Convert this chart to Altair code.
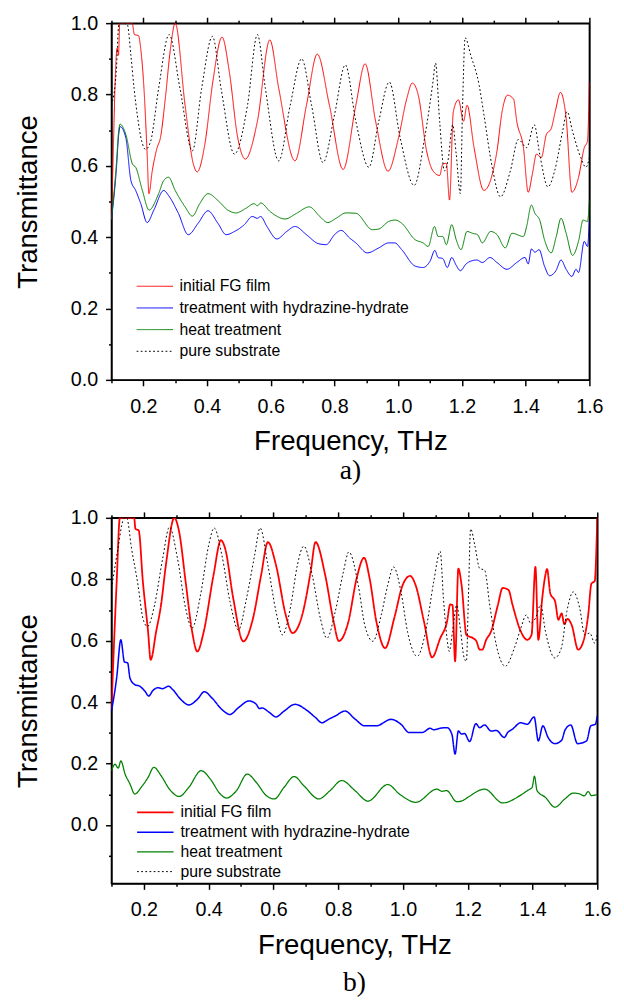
import altair as alt
import pandas as pd

SERIES = ["initial FG film", "treatment with hydrazine-hydrate", "heat treatment", "pure substrate"]
COLORS = ["#ff0000", "#0000ff", "#008000", "#000000"]
DASHES = [[1, 0], [1, 0], [1, 0], [1.8, 2.4]]

X_TICKS = [0.1, 0.2, 0.3, 0.4, 0.5, 0.6, 0.7, 0.8, 0.9, 1.0, 1.1, 1.2, 1.3, 1.4, 1.5, 1.6]
Y_TICKS_A = [0.0, 0.1, 0.2, 0.3, 0.4, 0.5, 0.6, 0.7, 0.8, 0.9, 1.0]
Y_TICKS_B = [-0.1, 0.0, 0.1, 0.2, 0.3, 0.4, 0.5, 0.6, 0.7, 0.8, 0.9, 1.0]

# ---- panel a) ----
A_RED = [(0.100, 0.45), (0.106, 0.65), (0.112, 0.85), (0.118, 0.93), (0.122, 0.91), (0.126, 1.0),
         (0.165, 1.0), (0.172, 0.968), (0.185, 0.965), (0.192, 0.927), (0.202, 0.817), (0.212, 0.633),
         (0.2175, 0.522), (0.228, 0.586), (0.243, 0.65), (0.254, 0.68), (0.269, 0.789), (0.285, 0.927),
         (0.300, 1.0), (0.331, 0.77), (0.357, 0.605), (0.369, 0.583), (0.393, 0.66), (0.418, 0.835),
         (0.447, 0.961), (0.470, 0.863), (0.496, 0.68), (0.520, 0.619), (0.558, 0.725), (0.597, 0.953),
         (0.625, 0.817), (0.676, 0.614), (0.712, 0.77), (0.746, 0.913), (0.784, 0.77), (0.827, 0.59),
         (0.867, 0.77), (0.896, 0.886), (0.929, 0.725), (0.968, 0.585), (1.001, 0.679), (1.027, 0.789),
         (1.044, 0.832), (1.063, 0.798), (1.089, 0.642), (1.109, 0.586), (1.130, 0.573), (1.140, 0.605),
         (1.151, 0.607), (1.161, 0.504), (1.173, 0.752), (1.189, 0.785), (1.205, 0.725), (1.216, 0.77),
         (1.238, 0.651), (1.269, 0.531), (1.310, 0.642), (1.326, 0.752), (1.343, 0.798), (1.362, 0.787),
         (1.372, 0.725), (1.393, 0.651), (1.408, 0.526), (1.421, 0.577), (1.434, 0.633), (1.449, 0.623),
         (1.465, 0.688), (1.480, 0.704), (1.494, 0.757), (1.509, 0.806), (1.527, 0.734), (1.545, 0.526),
         (1.566, 0.568), (1.584, 0.651), (1.594, 0.669), (1.600, 0.835)]

A_BLUE = [(0.100, 0.45), (0.115, 0.586), (0.123, 0.69), (0.127, 0.71), (0.145, 0.679), (0.161, 0.559),
          (0.176, 0.531), (0.192, 0.494), (0.212, 0.441), (0.233, 0.476), (0.264, 0.531), (0.279, 0.517),
          (0.310, 0.467), (0.341, 0.407), (0.372, 0.439), (0.403, 0.474), (0.434, 0.439), (0.460, 0.407),
          (0.486, 0.416), (0.517, 0.435), (0.542, 0.458), (0.558, 0.453), (0.568, 0.458), (0.588, 0.43),
          (0.619, 0.395), (0.650, 0.416), (0.676, 0.43), (0.712, 0.407), (0.749, 0.382), (0.774, 0.379),
          (0.800, 0.407), (0.821, 0.419), (0.847, 0.398), (0.867, 0.384), (0.903, 0.356), (0.939, 0.37),
          (0.970, 0.384), (0.989, 0.384), (1.011, 0.365), (1.053, 0.319), (1.078, 0.315), (1.100, 0.333),
          (1.115, 0.363), (1.125, 0.343), (1.140, 0.34), (1.154, 0.315), (1.168, 0.343), (1.182, 0.321),
          (1.195, 0.306), (1.213, 0.325), (1.228, 0.333), (1.247, 0.336), (1.264, 0.329), (1.288, 0.343),
          (1.310, 0.329), (1.341, 0.31), (1.372, 0.329), (1.398, 0.343), (1.408, 0.325), (1.418, 0.367),
          (1.429, 0.358), (1.442, 0.365), (1.459, 0.319), (1.475, 0.292), (1.495, 0.306), (1.511, 0.336),
          (1.527, 0.31), (1.545, 0.29), (1.558, 0.31), (1.566, 0.301), (1.584, 0.388), (1.594, 0.374),
          (1.600, 0.448)]

A_GREEN = [(0.100, 0.45), (0.115, 0.6), (0.123, 0.70), (0.127, 0.717), (0.145, 0.688), (0.166, 0.605),
           (0.176, 0.596), (0.197, 0.531), (0.218, 0.476), (0.248, 0.522), (0.264, 0.559), (0.279, 0.568),
           (0.300, 0.531), (0.331, 0.485), (0.354, 0.459), (0.377, 0.494), (0.403, 0.522), (0.434, 0.503),
           (0.465, 0.476), (0.491, 0.468), (0.522, 0.481), (0.548, 0.494), (0.558, 0.488), (0.568, 0.496),
           (0.599, 0.471), (0.645, 0.451), (0.681, 0.467), (0.721, 0.485), (0.754, 0.458), (0.779, 0.441),
           (0.805, 0.453), (0.836, 0.468), (0.867, 0.467), (0.919, 0.421), (0.939, 0.423), (0.970, 0.444),
           (0.991, 0.448), (1.011, 0.439), (1.053, 0.393), (1.078, 0.384), (1.094, 0.374), (1.114, 0.43),
           (1.125, 0.402), (1.140, 0.402), (1.151, 0.379), (1.168, 0.435), (1.182, 0.393), (1.197, 0.365),
           (1.216, 0.416), (1.233, 0.411), (1.249, 0.407), (1.264, 0.384), (1.290, 0.416), (1.310, 0.407),
           (1.336, 0.37), (1.357, 0.411), (1.393, 0.402), (1.403, 0.43), (1.418, 0.49), (1.429, 0.467),
           (1.444, 0.448), (1.459, 0.393), (1.480, 0.356), (1.496, 0.402), (1.511, 0.453), (1.527, 0.411),
           (1.547, 0.349), (1.567, 0.393), (1.580, 0.448), (1.594, 0.444), (1.600, 0.503)]

A_SUBSTRATE = [(0.100, 0.77), (0.115, 0.863), (0.123, 0.996), (0.127, 1.0), (0.135, 1.0), (0.150, 0.995),
               (0.161, 0.909), (0.171, 0.817), (0.181, 0.743), (0.195, 0.669), (0.207, 0.646), (0.223, 0.669),
               (0.248, 0.817), (0.281, 0.968), (0.315, 0.817), (0.354, 0.642), (0.383, 0.817), (0.417, 0.963),
               (0.444, 0.817), (0.486, 0.633), (0.527, 0.77), (0.558, 0.968), (0.583, 0.817), (0.625, 0.614),
               (0.661, 0.77), (0.697, 0.9), (0.728, 0.77), (0.764, 0.609), (0.800, 0.743), (0.834, 0.883),
               (0.867, 0.725), (0.908, 0.596), (0.939, 0.725), (0.972, 0.835), (1.006, 0.679), (1.050, 0.545),
               (1.083, 0.679), (1.109, 0.835), (1.117, 0.888), (1.130, 0.725), (1.145, 0.586), (1.156, 0.614),
               (1.171, 0.715), (1.182, 0.633), (1.195, 0.522), (1.202, 0.77), (1.210, 0.959), (1.228, 0.909),
               (1.254, 0.826), (1.269, 0.743), (1.295, 0.596), (1.321, 0.513), (1.352, 0.586), (1.377, 0.674),
               (1.403, 0.651), (1.427, 0.715), (1.444, 0.633), (1.470, 0.541), (1.491, 0.586), (1.516, 0.697),
               (1.530, 0.752), (1.547, 0.697), (1.573, 0.623), (1.589, 0.596), (1.600, 0.623)]

# ---- panel b) ----
B_RED = [(0.100, 0.38), (0.116, 0.79), (0.126, 1.0), (0.170, 1.0), (0.174, 0.964), (0.184, 0.959),
         (0.197, 0.792), (0.213, 0.63), (0.221, 0.538), (0.238, 0.63), (0.253, 0.716), (0.268, 0.846),
         (0.294, 1.0), (0.309, 0.954), (0.329, 0.792), (0.349, 0.63), (0.365, 0.565), (0.385, 0.63),
         (0.415, 0.813), (0.438, 0.927), (0.451, 0.9), (0.476, 0.738), (0.507, 0.598), (0.537, 0.673),
         (0.562, 0.813), (0.583, 0.921), (0.608, 0.846), (0.638, 0.684), (0.659, 0.625), (0.689, 0.684),
         (0.715, 0.824), (0.730, 0.921), (0.760, 0.813), (0.786, 0.662), (0.802, 0.599), (0.831, 0.66),
         (0.857, 0.803), (0.880, 0.87), (0.897, 0.803), (0.918, 0.662), (0.945, 0.576), (0.973, 0.673),
         (0.999, 0.781), (1.022, 0.811), (1.039, 0.781), (1.065, 0.662), (1.090, 0.546), (1.115, 0.608),
         (1.136, 0.662), (1.146, 0.718), (1.153, 0.716), (1.161, 0.533), (1.171, 0.835), (1.181, 0.781),
         (1.196, 0.619), (1.217, 0.608), (1.227, 0.598), (1.237, 0.571), (1.245, 0.571), (1.257, 0.603),
         (1.272, 0.63), (1.293, 0.716), (1.308, 0.772), (1.326, 0.765), (1.338, 0.718), (1.364, 0.63),
         (1.384, 0.603), (1.397, 0.619), (1.409, 0.84), (1.418, 0.603), (1.430, 0.738), (1.438, 0.803),
         (1.445, 0.833), (1.455, 0.754), (1.470, 0.727), (1.480, 0.668), (1.490, 0.689), (1.498, 0.654),
         (1.508, 0.671), (1.521, 0.651), (1.541, 0.571), (1.557, 0.598), (1.572, 0.684), (1.582, 0.786),
         (1.592, 0.794), (1.600, 1.0)]

B_BLUE = [(0.100, 0.371), (0.116, 0.479), (0.129, 0.603), (0.140, 0.531), (0.150, 0.528), (0.157, 0.479),
          (0.172, 0.457), (0.187, 0.452), (0.203, 0.436), (0.215, 0.42), (0.228, 0.438), (0.243, 0.447),
          (0.258, 0.444), (0.276, 0.452), (0.289, 0.441), (0.314, 0.409), (0.339, 0.391), (0.365, 0.409),
          (0.387, 0.434), (0.410, 0.414), (0.441, 0.376), (0.466, 0.36), (0.492, 0.382), (0.525, 0.404),
          (0.547, 0.393), (0.557, 0.379), (0.565, 0.381), (0.588, 0.366), (0.608, 0.352), (0.633, 0.371),
          (0.667, 0.393), (0.700, 0.376), (0.730, 0.35), (0.750, 0.333), (0.770, 0.344), (0.791, 0.355),
          (0.821, 0.371), (0.852, 0.345), (0.882, 0.323), (0.918, 0.323), (0.963, 0.344), (0.994, 0.328),
          (1.019, 0.301), (1.059, 0.301), (1.084, 0.315), (1.095, 0.31), (1.115, 0.315), (1.136, 0.317),
          (1.151, 0.296), (1.161, 0.231), (1.171, 0.306), (1.181, 0.296), (1.190, 0.298), (1.206, 0.272),
          (1.225, 0.33), (1.237, 0.317), (1.252, 0.326), (1.272, 0.306), (1.288, 0.308), (1.313, 0.285),
          (1.323, 0.301), (1.338, 0.312), (1.364, 0.333), (1.384, 0.328), (1.405, 0.352), (1.418, 0.274),
          (1.432, 0.323), (1.448, 0.285), (1.469, 0.265), (1.490, 0.276), (1.500, 0.308), (1.518, 0.326),
          (1.539, 0.265), (1.567, 0.274), (1.580, 0.323), (1.594, 0.328), (1.600, 0.355)]

B_GREEN = [(0.100, 0.177), (0.111, 0.198), (0.121, 0.185), (0.129, 0.209), (0.142, 0.166), (0.157, 0.134),
           (0.172, 0.101), (0.192, 0.123), (0.213, 0.155), (0.231, 0.188), (0.253, 0.161), (0.279, 0.117),
           (0.309, 0.093), (0.339, 0.123), (0.377, 0.177), (0.405, 0.15), (0.436, 0.101), (0.455, 0.088),
           (0.486, 0.112), (0.519, 0.166), (0.547, 0.139), (0.578, 0.096), (0.603, 0.085), (0.633, 0.123),
           (0.664, 0.158), (0.694, 0.128), (0.740, 0.085), (0.775, 0.112), (0.811, 0.145), (0.852, 0.112),
           (0.892, 0.078), (0.953, 0.132), (0.990, 0.1), (1.040, 0.074), (1.105, 0.117), (1.120, 0.11),
           (1.135, 0.112), (1.166, 0.076), (1.185, 0.08), (1.200, 0.09), (1.252, 0.117), (1.308, 0.072),
           (1.360, 0.095), (1.384, 0.112), (1.399, 0.123), (1.406, 0.159), (1.414, 0.112), (1.440, 0.09),
           (1.469, 0.058), (1.500, 0.085), (1.526, 0.104), (1.546, 0.101), (1.560, 0.095), (1.572, 0.109),
           (1.582, 0.096), (1.600, 0.1)]

SUBSTRATE_B = [(0.100, 0.77), (0.120, 0.9), (0.135, 0.99), (0.142, 1.0), (0.147, 1.0), (0.162, 0.9),
               (0.182, 0.781), (0.197, 0.673), (0.211, 0.646), (0.233, 0.716), (0.258, 0.867), (0.279, 0.97),
               (0.304, 0.867), (0.329, 0.705), (0.349, 0.641), (0.375, 0.749), (0.400, 0.91), (0.417, 0.967),
               (0.441, 0.878), (0.466, 0.727), (0.492, 0.635), (0.517, 0.738), (0.542, 0.878), (0.559, 0.967),
               (0.583, 0.846), (0.608, 0.695), (0.628, 0.619), (0.654, 0.716), (0.674, 0.846), (0.694, 0.908),
               (0.720, 0.813), (0.745, 0.673), (0.765, 0.608), (0.791, 0.695), (0.816, 0.824), (0.833, 0.889),
               (0.862, 0.781), (0.882, 0.651), (0.907, 0.598), (0.933, 0.684), (0.953, 0.781), (0.971, 0.84),
               (0.994, 0.759), (1.014, 0.63), (1.044, 0.549), (1.070, 0.63), (1.095, 0.792), (1.115, 0.891),
               (1.125, 0.738), (1.136, 0.608), (1.143, 0.565), (1.153, 0.63), (1.166, 0.716), (1.177, 0.641),
               (1.189, 0.544), (1.196, 0.533), (1.202, 0.738), (1.209, 0.964), (1.222, 0.91), (1.237, 0.835),
               (1.252, 0.83), (1.268, 0.716), (1.288, 0.587), (1.316, 0.517), (1.344, 0.576), (1.364, 0.641),
               (1.381, 0.684), (1.394, 0.657), (1.409, 0.673), (1.425, 0.716), (1.440, 0.63), (1.469, 0.544),
               (1.489, 0.576), (1.506, 0.695), (1.526, 0.759), (1.546, 0.705), (1.561, 0.619), (1.577, 0.625),
               (1.592, 0.592), (1.600, 0.62)]


def make_frame(lists):
    rows = []
    for name, pts in zip(SERIES, lists):
        for i, (x, y) in enumerate(pts):
            rows.append({"x": x, "y": y, "series": name, "i": i})
    return pd.DataFrame(rows)


DF_A = make_frame([A_RED, A_BLUE, A_GREEN, A_SUBSTRATE])
DF_B = make_frame([B_RED, B_BLUE, B_GREEN, SUBSTRATE_B])

FONT = "Liberation Sans"
MAJOR = "abs(round(datum.value * 10)) % 2 == 0"
TICK_SIZE = {"condition": {"test": MAJOR, "value": 6}, "value": 3}
LABEL_EXPR = "abs(round(datum.value * 10)) % 2 == 0 ? format(datum.value, '.1f') : ''"


def panel(df, ydom, yticks, width, height, widths, legend_y, row_pad, tag, tag_offset):
    base = alt.Chart(df)
    leg = alt.Legend(orient="none", legendX=25, legendY=legend_y, title=None,
                     symbolType="stroke", symbolSize=1369, symbolStrokeWidth=1.3,
                     labelFont=FONT, labelFontSize=16, labelColor="black", labelOffset=6,
                     rowPadding=row_pad, clipHeight=16, padding=0, labelLimit=400)
    xs = alt.Scale(domain=[0.1, 1.6], nice=False, zero=False)
    ys = alt.Scale(domain=ydom, nice=False, zero=False)
    lines = base.mark_line(clip=True, interpolate="monotone").encode(
        x=alt.X("x:Q", scale=xs,
                axis=alt.Axis(values=X_TICKS, title="Frequency, THz", labelExpr=LABEL_EXPR,
                              tickSize=TICK_SIZE, labelFlush=False, labelOverlap=False,
                              labelPadding=11, titlePadding=12)),
        y=alt.Y("y:Q", scale=ys,
                axis=alt.Axis(values=yticks, title="Transmittance", labelExpr=LABEL_EXPR,
                              tickSize=TICK_SIZE, labelFlush=False, labelOverlap=False,
                              labelPadding=8, titlePadding=28)),
        color=alt.Color("series:N", scale=alt.Scale(domain=SERIES, range=COLORS), legend=leg),
        strokeDash=alt.StrokeDash("series:N", scale=alt.Scale(domain=SERIES, range=DASHES), legend=leg),
        strokeWidth=alt.StrokeWidth("series:N", scale=alt.Scale(domain=SERIES, range=widths), legend=None),
        order="i:Q",
    )
    top = base.mark_line(opacity=0).encode(
        x=alt.X("x:Q", scale=xs,
                axis=alt.Axis(orient="top", values=X_TICKS, labels=False, title=None,
                              tickSize=TICK_SIZE)),
        y=alt.Y("y:Q", scale=ys,
                axis=alt.Axis(orient="right", values=yticks, labels=False, title=None,
                              ticks=False)),
        detail="series:N",
    )
    return alt.layer(lines, top).resolve_axis(x="independent", y="independent").properties(
        width=width, height=height,
        title=alt.TitleParams(tag, orient="bottom", anchor="middle", font="Liberation Serif",
                              fontSize=28, fontWeight="normal", color="black", offset=tag_offset),
    )


chart_a = panel(DF_A, [0.0, 1.0], Y_TICKS_A, 485, 362, [1, 1, 1, 1.6], 259, 6, "a)", 2)
chart_b = panel(DF_B, [-0.19, 1.0], Y_TICKS_B, 493, 371, [1.8, 1, 1, 1.6], 291, 4, "b)", 10)

chart = alt.vconcat(chart_a, chart_b, spacing=21).resolve_scale(
    color="independent", strokeDash="independent", strokeWidth="independent"
).resolve_legend(
    color="independent", strokeDash="independent"
).properties(
    padding={"left": 6, "top": -3, "right": 4, "bottom": 0}
).configure_axis(
    labelFont=FONT, labelFontSize=20, labelColor="black",
    titleFont=FONT, titleFontSize=28, titleFontWeight="normal", titleColor="black",
    domainColor="black", domainWidth=1.5, tickColor="black", tickWidth=1.5, grid=False,
).configure_view(
    stroke="black", strokeWidth=1.5
)

chart.save("out.html", embed_options={"renderer": "svg", "actions": False})
